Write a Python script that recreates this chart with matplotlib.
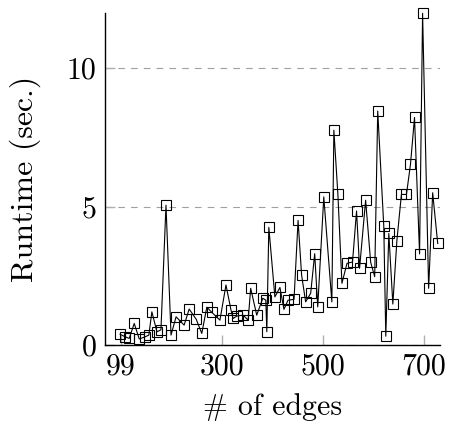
import matplotlib
matplotlib.use("Agg")
import matplotlib.pyplot as plt

plt.rcParams['font.family'] = ['cmr10', 'DejaVu Serif']
plt.rcParams['axes.formatter.use_mathtext'] = True

# runtime vs. number of edges
edges = [98, 108, 116, 126, 136, 148, 155, 161, 171, 179,
         189, 199, 209, 225, 235, 249, 260, 270, 280, 296,
         308, 318, 322, 330, 342, 352, 357, 369, 381, 387,
         389, 393, 405, 415, 423, 431, 443, 451, 458, 466,
         476, 484, 490, 502, 518, 522, 530, 538, 548, 559,
         567, 573, 585, 595, 603, 609, 621, 625, 631, 639,
         647, 656, 666, 674, 682, 692, 698, 710, 718, 728]
runtime = [0.39, 0.30, 0.24, 0.78, 0.22, 0.30, 0.36, 1.20, 0.48, 0.55,
           5.05, 0.36, 1.02, 0.72, 1.30, 0.93, 0.42, 1.37, 1.18, 0.90,
           2.17, 1.26, 0.96, 1.05, 1.08, 0.90, 2.05, 1.08, 1.69, 1.62,
           0.48, 4.25, 1.74, 2.08, 1.29, 1.62, 1.65, 4.50, 2.53, 1.56,
           1.87, 3.30, 1.38, 5.35, 1.56, 7.76, 5.44, 2.23, 2.95, 3.00,
           4.84, 2.77, 5.23, 2.99, 2.47, 8.45, 4.30, 0.32, 4.03, 1.48,
           3.77, 5.44, 5.44, 6.53, 8.22, 3.29, 11.98, 2.05, 5.50, 3.67]

xticks = [99, 300, 500, 700]
yticks = [0, 5, 10]

fig = plt.figure(figsize=(4.5, 4.26), dpi=100)
ax = fig.add_axes([0.2333, 0.19, 0.745, 0.78])

ax.plot(edges, runtime, color='black', lw=0.8, marker='s', markersize=7.2,
        markerfacecolor='none', markeredgecolor='black', markeredgewidth=0.8,
        clip_on=False, zorder=3)

ax.set_xlim(68, 733)
ax.set_ylim(0, 12.0)
ax.set_xticks(xticks)
ax.set_xticklabels([str(t) for t in xticks])
ax.set_yticks(yticks)
ax.set_yticklabels([str(t) for t in yticks])

for side in ['top', 'right']:
    ax.spines[side].set_visible(False)
for side in ['left', 'bottom']:
    ax.spines[side].set_linewidth(1.0)

ax.tick_params(direction='in', length=7, width=1.0, color='#b0b0b0',
               labelsize=21.5, pad=6)
ax.yaxis.grid(True, color='#a0a0a0', linestyle=(0, (6, 5.5)), lw=0.8)
ax.set_axisbelow(True)

ax.set_xlabel('# of edges', fontsize=21.5, labelpad=9)
ax.set_ylabel('Runtime (sec.)', fontsize=23, labelpad=19)

fig.savefig('out.png', dpi=100)
